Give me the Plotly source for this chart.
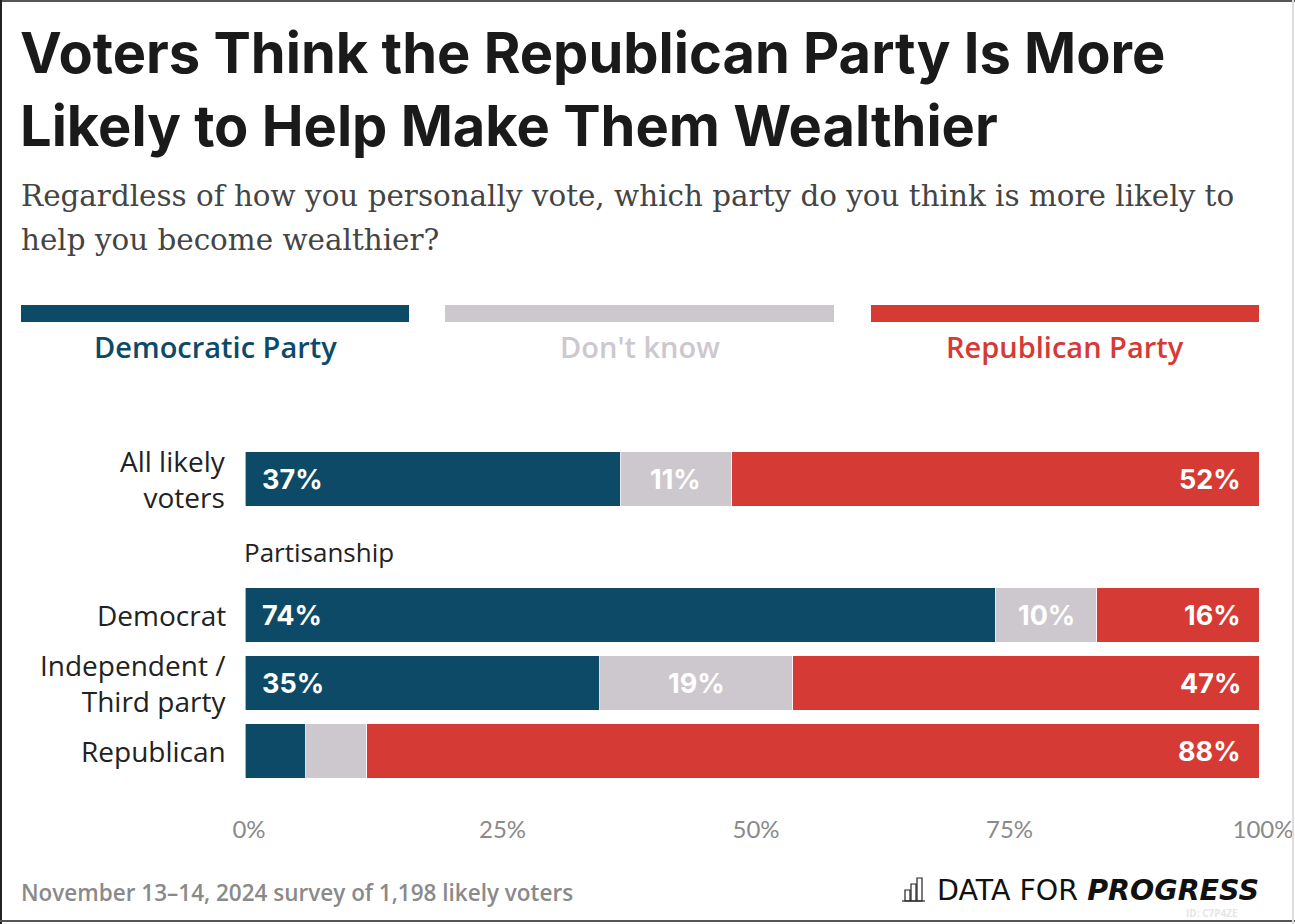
import plotly.graph_objects as go

# Survey results (percent)
groups = ["All likely<br>voters", "Democrat", "Independent /<br>Third party", "Republican"]
dem_vals = [37, 74, 35, 6]
dk_vals = [11, 10, 19, 6]
rep_vals = [52, 16, 47, 88]
series_names = ["Democratic Party", "Don't know", "Republican Party"]
tick_vals = [0, 25, 50, 75, 100]
tick_text = ["0%", "25%", "50%", "75%", "100%"]

DEM = "#0d4a68"
DK = "#cdc8cd"
REP = "#d63a35"

W, H = 1295, 924
L, R, T, B = 245, 36, 445, 139
PW, PH = W - L - R, H - T - B

def px(x):
    return (x - L) / PW

def py(y):
    return (H - B - y) / PH

# row positions: a gap row between the overall group and the partisan groups
rows = [0, 2, 3, 4]

fig = go.Figure()
for name, vals, col in zip(series_names, [dem_vals, dk_vals, rep_vals], [DEM, DK, REP]):
    fig.add_trace(go.Bar(
        y=rows, x=vals, name=name, orientation="h",
        marker=dict(color=col, line=dict(color="rgba(255,255,255,0.6)", width=1)),
        width=0.8, hoverinfo="skip", showlegend=False,
    ))

ann = []
label_font = dict(family="Inter", size=27, color="white", weight="bold")
for r, d, k, p in zip(rows, dem_vals, dk_vals, rep_vals):
    if d >= 8:
        ann.append(dict(x=0, y=r, xref="x", yref="y", text=f"{d}%", showarrow=False,
                        xanchor="left", xshift=15, font=label_font))
    if k >= 8:
        ann.append(dict(x=d + k / 2, y=r, xref="x", yref="y", text=f"{k}%", showarrow=False,
                        xanchor="center", font=label_font))
    if p >= 8:
        ann.append(dict(x=min(d + k + p, 100), y=r, xref="x", yref="y", text=f"{p}%",
                        showarrow=False, xanchor="right", xshift=-16, font=label_font))

# group labels at the left of each bar
grp_font = dict(family="Open Sans", size=28, color="#222")
for r, g in zip(rows, groups):
    ann.append(dict(x=0, y=r, xref="x", yref="y", text=g, showarrow=False, align="right",
                    xanchor="right", yanchor="middle", xshift=-17, font=grp_font))

ann.append(dict(x=0, y=1.08, xref="x", yref="y", text="Partisanship", showarrow=False,
                xanchor="left", xshift=-3, font=dict(family="Open Sans", size=26, color="#222")))

# title and subtitle
title_font = dict(family="Inter", size=56, color="#1a1a1a", weight="bold")
for txt, yc in [("Voters Think the Republican Party Is More", 53),
                ("Likely to Help Make Them Wealthier", 126)]:
    ann.append(dict(x=px(18), y=py(yc), xref="paper", yref="paper", text=txt, showarrow=False,
                    xanchor="left", yanchor="middle", font=title_font))
sub_font = dict(family="DejaVu Serif", size=29.4, color="#444")
for txt, yc in [("Regardless of how you personally vote, which party do you think is more likely to", 196),
                ("help you become wealthier?", 240)]:
    ann.append(dict(x=px(19), y=py(yc), xref="paper", yref="paper", text=txt, showarrow=False,
                    xanchor="left", yanchor="middle", font=sub_font))

# legend blocks
shapes = []
leg = [(21, 409, DEM), (445, 834, DK), (871, 1259, REP)]
for (x0, x1, col), nm in zip(leg, series_names):
    shapes.append(dict(type="rect", xref="paper", yref="paper", x0=px(x0), x1=px(x1),
                       y0=py(322), y1=py(305), fillcolor=col, line=dict(width=0)))
    ann.append(dict(x=px((x0 + x1) / 2), y=py(346), xref="paper", yref="paper", text=nm,
                    showarrow=False, xanchor="center", yanchor="middle",
                    font=dict(family="Open Sans", size=29, color=col, weight=600)))

# footer
ann.append(dict(x=px(19), y=py(892), xref="paper", yref="paper",
                text="November 13\u201314, 2024 survey of 1,198 likely voters", showarrow=False,
                xanchor="left", yanchor="middle",
                font=dict(family="Open Sans", size=22.5, color="#8a8a8a", weight=600)))
ann.append(dict(x=px(1261), y=py(890), xref="paper", yref="paper",
                text="DATA FOR <b><i>PROGRESS</i></b>", showarrow=False,
                xanchor="right", yanchor="middle",
                font=dict(family="DejaVu Sans", size=28.5, color="#111")))
ann.append(dict(x=px(1240), y=py(913), xref="paper", yref="paper", text="ID: C7P4ZE",
                showarrow=False, xanchor="right", yanchor="middle",
                font=dict(family="Open Sans", size=10, color="#e6e6e6", weight="bold")))

# logo mark: small outlined bars on a baseline
for x0, x1, ytop in [(905, 910, 890), (911, 916, 884), (917, 922, 878)]:
    shapes.append(dict(type="rect", xref="paper", yref="paper", x0=px(x0), x1=px(x1),
                       y0=py(901), y1=py(ytop), line=dict(color="#222", width=1.2)))
shapes.append(dict(type="line", xref="paper", yref="paper", x0=px(902), x1=px(925),
                   y0=py(901), y1=py(901), line=dict(color="#222", width=1.2)))

# frame
for x0, y0, x1, y1, c in [(0, 1, W, 1, "#555"), (1, 0, 1, H, "#222"),
                          (0, 921, W, 921, "#555"), (1293, 0, 1293, H, "#ddd")]:
    shapes.append(dict(type="line", xref="paper", yref="paper", x0=px(x0), x1=px(x1),
                       y0=py(y0), y1=py(y1), line=dict(color=c, width=2)))

fig.update_layout(
    barmode="stack", width=W, height=H,
    margin=dict(l=L, r=R, t=T, b=B, autoexpand=False),
    paper_bgcolor="white", plot_bgcolor="white",
    annotations=ann, shapes=shapes,
    xaxis=dict(range=[0, 100], tickvals=tick_vals, ticktext=tick_text, showgrid=False,
               zeroline=False, showline=False, ticks="", ticklabelstandoff=28,
               ticklabelshift=4,
               tickfont=dict(family="Lato", size=24, color="#8a8a8a"), fixedrange=True),
    yaxis=dict(range=[4.5, -0.5], tickvals=rows, showticklabels=False, showgrid=False,
               zeroline=False, showline=False, ticks="", fixedrange=True),
)

fig.write_html("out.html", config={"displayModeBar": False})
